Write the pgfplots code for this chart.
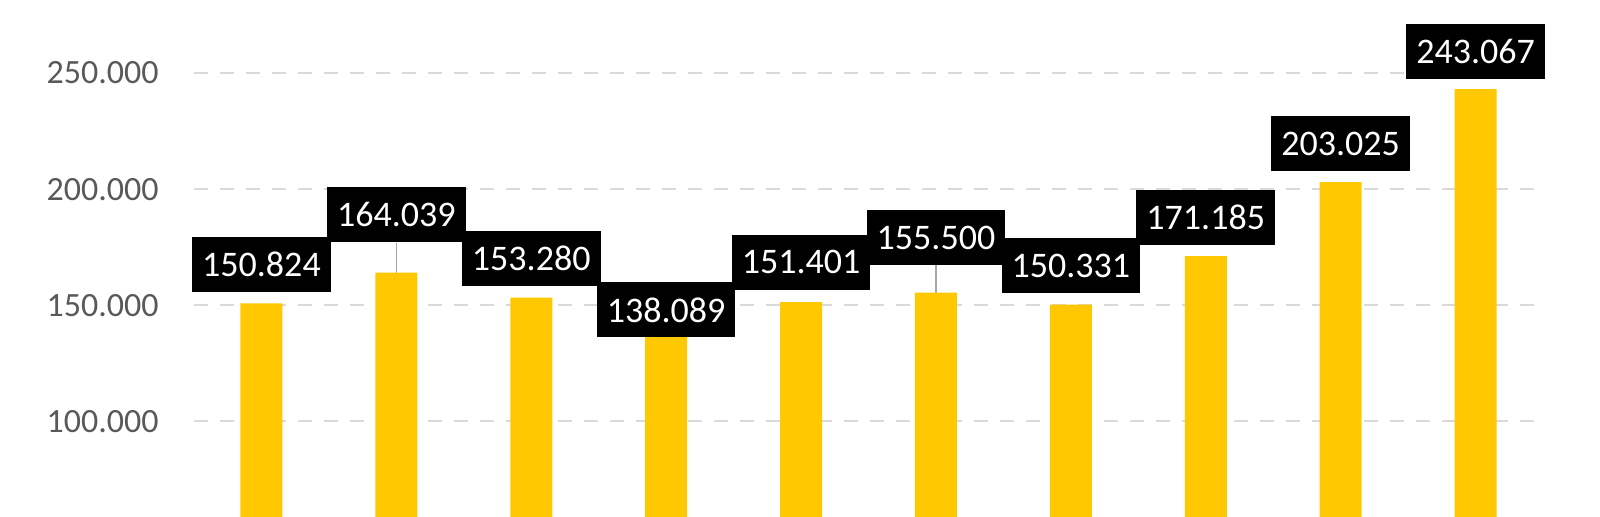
\documentclass[border=0pt]{standalone}
\usepackage{pgfplots}
\pgfplotsset{compat=1.18}
\usepackage{pgfplotstable}
\usepackage{fontspec}
\setmainfont{Carlito}

\definecolor{barcol}{HTML}{FFC800}
\definecolor{gridcol}{HTML}{D9D9D9}
\definecolor{tickcol}{HTML}{595959}
\definecolor{leadcol}{HTML}{A6A6A6}

% x, value, label offset above bar top (pt), label text
\pgfplotstableread{
x y off lab
0 150824 19.5 150.824
1 164039 29.2 164.039
2 153280 19.5 153.280
3 138089 11.5 138.089
4 151401 19.8 151.401
5 155500 27.4 155.500
6 150331 19.4 150.331
7 171185 19.5 171.185
8 203025 19.3 203.025
9 243067 18.8 243.067
}\sales

\begin{document}
\begin{tikzpicture}
\begin{axis}[
    scale only axis,
    width=674.5pt, height=258.5pt,
    xmin=-0.5, xmax=9.5,
    ymin=58836, ymax=281466,
    axis line style={draw=none},
    major tick length=0pt,
    xtick=\empty,
    ytick={100000,150000,200000,250000},
    yticklabels={100.000,150.000,200.000,250.000},
    yticklabel style={anchor=east, inner sep=0pt, xshift=-17.5pt,
        font=\fontsize{17}{20}\selectfont, text=tickcol},
    ymajorgrids,
    grid style={gridcol, line width=1pt, dash pattern=on 7pt off 6pt},
]
\addplot[leadcol, line width=0.6pt] coordinates {(1,164039) (1,176724)};
\addplot[leadcol, line width=0.6pt] coordinates {(5,155500) (5,167241)};
\addplot[ybar, bar width=21pt, fill=barcol, draw=none,
    point meta=explicit symbolic,
    visualization depends on={\thisrow{off} \as \off},
    nodes near coords,
    every node near coord/.append style={anchor=center, yshift=\off pt,
        fill=black, text=white, inner xsep=5pt, inner ysep=0pt,
        minimum height=27.5pt, font=\fontsize{18}{21}\selectfont},
] table[x=x, y=y, meta=lab] {\sales};
\coordinate (ll) at (rel axis cs:0,0);
\coordinate (ur) at (rel axis cs:1,1);
\end{axis}
\pgfresetboundingbox
\path ([xshift=-97pt]ll) rectangle ([xshift=28.5pt]ur);
\end{tikzpicture}
\end{document}
